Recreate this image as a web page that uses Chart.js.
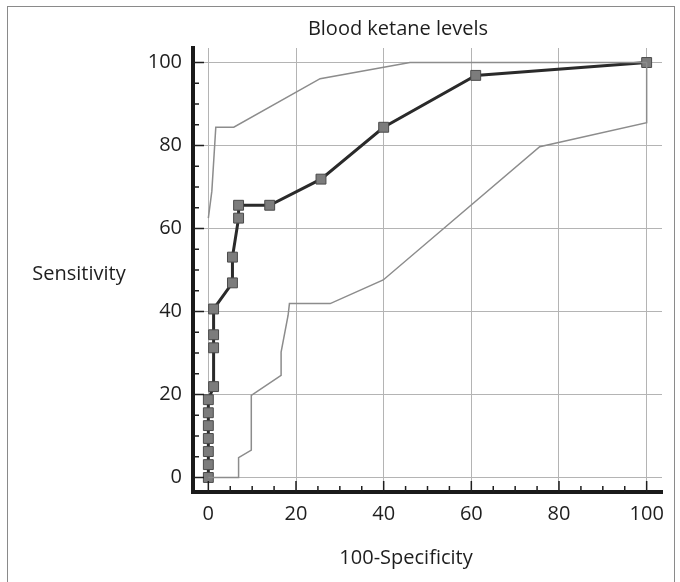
<!DOCTYPE html>
<html>
<head>
<meta charset="utf-8">
<script src="https://cdn.jsdelivr.net/npm/chart.js@4/dist/chart.umd.min.js"></script>
<style>
  html, body { margin: 0; padding: 0; background: #fff; overflow: hidden; }
  #wrap { position: relative; width: 680px; height: 582px; font-family: 'Open Sans', sans-serif; color: #1e1e1e; }
  #frame { position: absolute; left: 7px; top: 6px; width: 666px; height: 620px; border: 1px solid #8a8a8a; }
  canvas { position: absolute; left: 0; top: 0; }
  .lbl { position: absolute; font-size: 20px; white-space: nowrap; transform: translate(-50%, -50%); }
</style>
</head>
<body>
<div id="wrap">
  <div id="frame"></div>
  <canvas id="roc" width="680" height="582"></canvas>
  <div class="lbl" style="left:398px; top:27px;">Blood ketane levels</div>
  <div class="lbl" style="left:79px; top:272px;">Sensitivity</div>
  <div class="lbl" style="left:406px; top:556px;">100-Specificity</div>
</div>
<script>
// ============================================================
// DATA — ROC curve + 95% confidence bounds
// ============================================================
const rocX = [0, 0, 0, 0, 0, 0, 0, 1.2, 1.2, 1.2, 1.2, 5.5, 5.5, 6.9, 6.9, 14, 25.7, 40, 61, 100];
const rocY = [0, 3.1, 6.25, 9.4, 12.5, 15.6, 18.75, 21.9, 31.25, 34.4, 40.6, 46.9, 53.1, 62.5, 65.6, 65.6, 71.9, 84.4, 96.9, 100];

const upperX = [0, 0.8, 1.7, 5.8, 25.5, 46, 100];
const upperY = [62.5, 69, 84.4, 84.4, 96.1, 100, 100];

const lowerX = [0, 6.9, 6.9, 9.8, 9.8, 16.6, 16.6, 18.2, 18.5, 27.8, 39.9, 75.6, 100, 100];
const lowerY = [0, 0, 4.8, 6.6, 19.8, 24.6, 30.2, 39.1, 41.9, 41.9, 47.6, 79.7, 85.5, 100];

const majorTicks = [0, 20, 40, 60, 80, 100];
const minorTicks = [0, 5, 10, 15, 20, 25, 30, 35, 40, 45, 50, 55, 60, 65, 70, 75, 80, 85, 90, 95, 100];

const FONT = { family: "'Open Sans', sans-serif", size: 20 };

function toPoints(xs, ys) {
  return xs.map((x, i) => ({ x, y: ys[i] }));
}

// small tick marks drawn inward from both axes
const axisTicks = {
  id: 'axisTicks',
  afterDraw(chart) {
    const { ctx, chartArea, scales: { x, y } } = chart;
    ctx.save();
    ctx.strokeStyle = '#1e1e1e';
    ctx.lineWidth = 1.5;
    ctx.beginPath();
    minorTicks.forEach(v => {
      const len = v % 20 === 0 ? 11 : 6;
      const px = x.getPixelForValue(v);
      ctx.moveTo(px, chartArea.bottom);
      ctx.lineTo(px, chartArea.bottom - len);
      const py = y.getPixelForValue(v);
      ctx.moveTo(chartArea.left, py);
      ctx.lineTo(chartArea.left + len, py);
    });
    ctx.stroke();
    ctx.restore();
  }
};

function axisOptions(fit) {
  return {
    type: 'linear',
    min: -3.5,
    max: 103.5,
    afterBuildTicks: s => { s.ticks = majorTicks.map(v => ({ value: v })); },
    afterFit: fit,
    grid: { color: '#b4b4b4', lineWidth: 1, drawTicks: false },
    border: { color: '#1a1a1a', width: 4 },
    ticks: { color: '#1e1e1e', font: FONT, maxRotation: 0 }
  };
}

const xAxis = axisOptions(s => { s.height = 90; });
xAxis.ticks.padding = 10;
const yAxis = axisOptions(s => { s.width = 193; });
yAxis.ticks.padding = 11;

new Chart(document.getElementById('roc'), {
  type: 'scatter',
  data: {
    datasets: [
      {
        data: toPoints(lowerX, lowerY),
        showLine: true,
        borderColor: '#8c8c8c',
        borderWidth: 1.5,
        pointRadius: 0
      },
      {
        data: toPoints(upperX, upperY),
        showLine: true,
        borderColor: '#8c8c8c',
        borderWidth: 1.5,
        pointRadius: 0
      },
      {
        data: toPoints(rocX, rocY),
        showLine: true,
        borderColor: '#2a2a2a',
        borderWidth: 3,
        pointStyle: 'rect',
        pointRadius: 7,
        pointBackgroundColor: '#7c7c7c',
        pointBorderColor: '#4a4a4a',
        pointBorderWidth: 1
      }
    ]
  },
  options: {
    responsive: false,
    animation: false,
    layout: { padding: { top: 48, right: 18, left: 0, bottom: 0 } },
    plugins: {
      legend: { display: false },
      tooltip: { enabled: false },
      title: { display: false }
    },
    scales: { x: xAxis, y: yAxis }
  },
  plugins: [axisTicks]
});
</script>
</body>
</html>
